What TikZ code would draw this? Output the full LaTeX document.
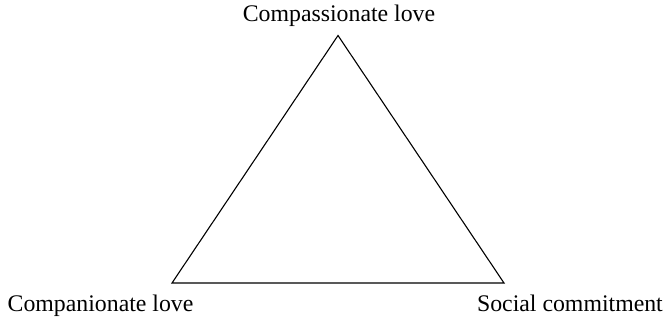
\documentclass[tikz,border=0pt]{standalone}
\usepackage{fontspec}
\setmainfont{Liberation Serif}
\begin{document}
\begin{tikzpicture}[x=1pt,y=-1pt,
  lbl/.style={inner sep=0pt,font=\fontsize{23.8}{28}\selectfont},
  edge/.style={draw=black,line width=1.1pt,line join=miter}]
\useasboundingbox (0,0) rectangle (666,321);
\coordinate (top) at (338,35.5);
\coordinate (bl) at (172,283);
\coordinate (br) at (504,283);
\draw[edge] (top) -- (bl) -- (br) -- cycle;
\node[lbl,anchor=base] (ltop) at (339,21.5) {Compassionate love};
\node[lbl,anchor=base west] (lbl) at (7.5,311) {Companionate love};
\node[lbl,anchor=base east] (lbr) at (663,311) {Social commitment};
\end{tikzpicture}
\end{document}
